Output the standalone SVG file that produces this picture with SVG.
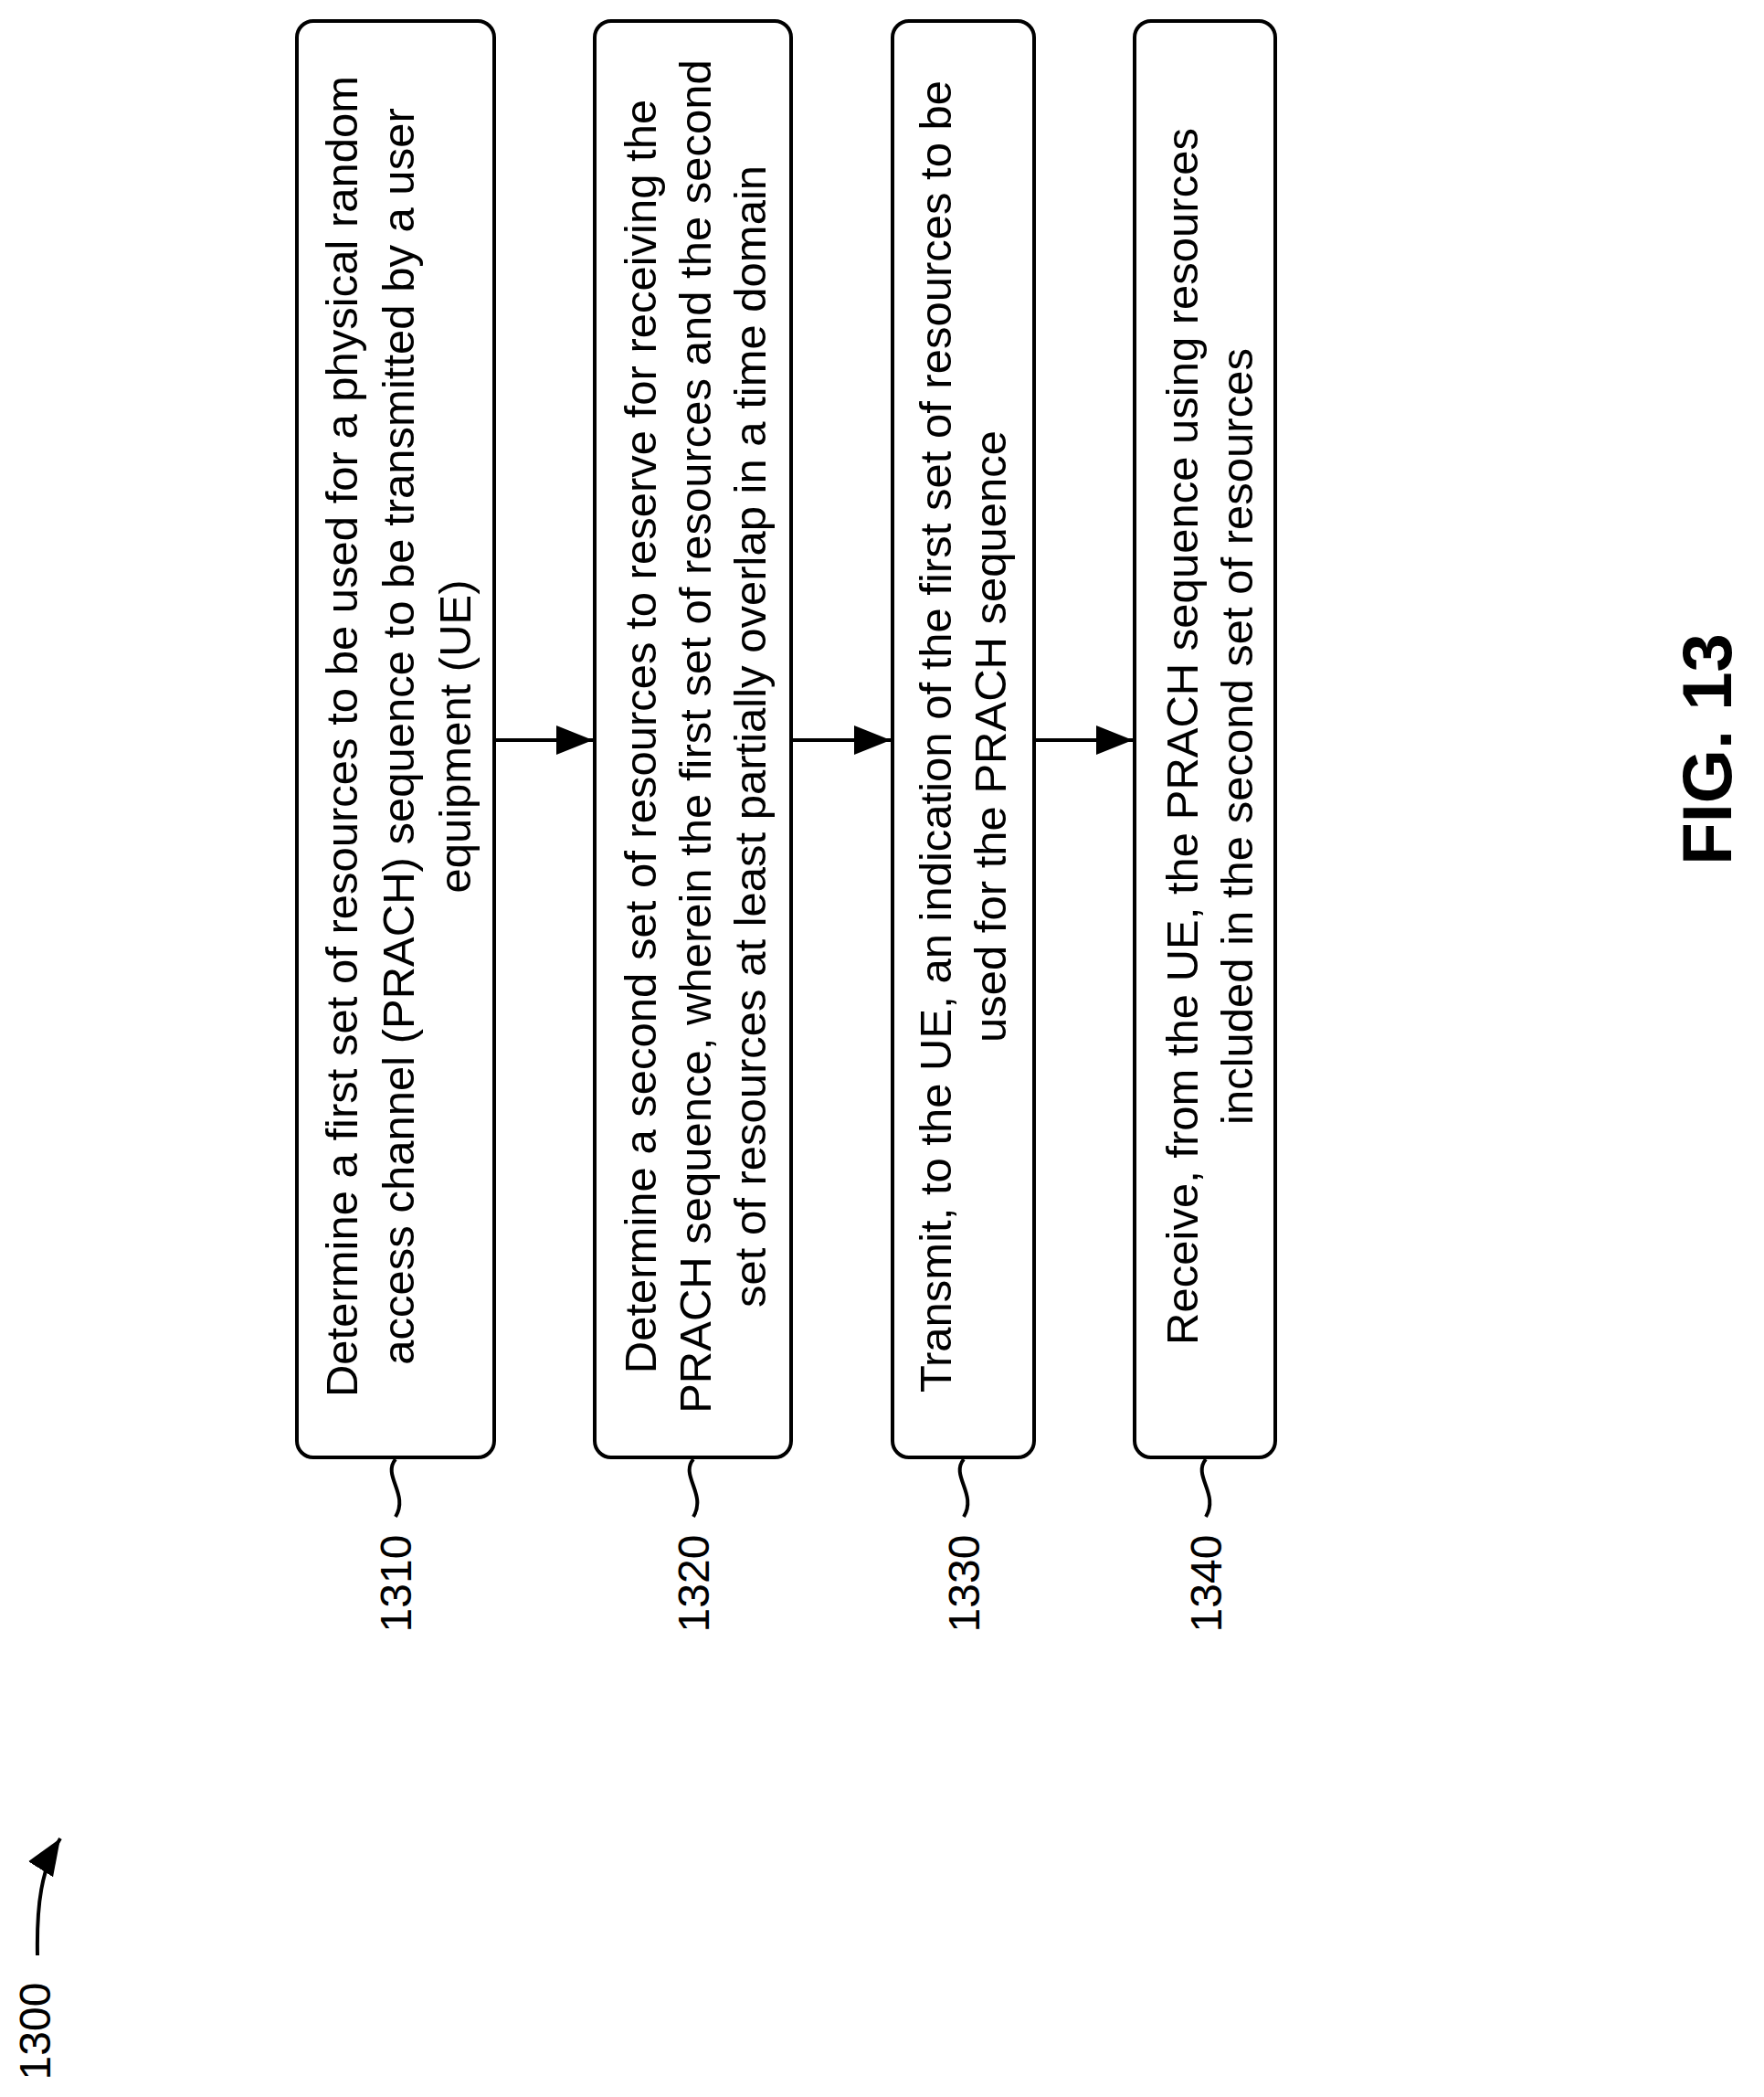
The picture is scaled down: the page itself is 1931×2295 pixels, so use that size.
<svg xmlns="http://www.w3.org/2000/svg" width="1931" height="2295" viewBox="0 0 1931 2295">
<style>
.box{fill:#fff;stroke:#000;stroke-width:4}
.t{font-family:"Liberation Sans",Arial,sans-serif;font-size:49px;text-anchor:middle;fill:#000}
.lbl{font-family:"Liberation Sans",Arial,sans-serif;font-size:48px;text-anchor:middle;fill:#000}
.ln{fill:none;stroke:#000;stroke-width:4}
</style>
<defs><marker id="ah" markerWidth="10" markerHeight="8" refX="10" refY="4" orient="auto" markerUnits="strokeWidth"><path d="M0,0 L10,4 L0,8 Z" fill="#000"/></marker></defs>
<rect width="1931" height="2295" fill="#fff"/>
<g id="n1310">
<rect class="box" x="325" y="23" width="216" height="1572" rx="18"/>
<text class="t" transform="translate(391,806) rotate(-90)">Determine a first set of resources to be used for a physical random</text>
<text class="t" transform="translate(453,806) rotate(-90)">access channel (PRACH) sequence to be transmitted by a user</text>
<text class="t" transform="translate(515,806) rotate(-90)">equipment (UE)</text>
<path class="ln" d="M433,1597 C418,1615 448,1635 433,1660"/>
<text class="lbl" transform="translate(450,1733) rotate(-90)">1310</text>
</g>
<g id="n1320">
<rect class="box" x="651" y="23" width="215" height="1572" rx="18"/>
<text class="t" transform="translate(718,806) rotate(-90)">Determine a second set of resources to reserve for receiving the</text>
<text class="t" transform="translate(778,806) rotate(-90)">PRACH sequence, wherein the first set of resources and the second</text>
<text class="t" transform="translate(838,806) rotate(-90)">set of resources at least partially overlap in a time domain</text>
<path class="ln" d="M759,1597 C744,1615 774,1635 759,1660"/>
<text class="lbl" transform="translate(776,1733) rotate(-90)">1320</text>
</g>
<g id="n1330">
<rect class="box" x="977" y="23" width="155" height="1572" rx="18"/>
<text class="t" transform="translate(1041,806) rotate(-90)">Transmit, to the UE, an indication of the first set of resources to be</text>
<text class="t" transform="translate(1101,806) rotate(-90)">used for the PRACH sequence</text>
<path class="ln" d="M1055,1597 C1040,1615 1070,1635 1055,1660"/>
<text class="lbl" transform="translate(1072,1733) rotate(-90)">1330</text>
</g>
<g id="n1340">
<rect class="box" x="1242" y="23" width="154" height="1572" rx="18"/>
<text class="t" transform="translate(1311,806) rotate(-90)">Receive, from the UE, the PRACH sequence using resources</text>
<text class="t" transform="translate(1371,806) rotate(-90)">included in the second set of resources</text>
<path class="ln" d="M1320,1597 C1305,1615 1335,1635 1320,1660"/>
<text class="lbl" transform="translate(1337,1733) rotate(-90)">1340</text>
</g>
<g id="connectors">
<line class="ln" x1="541" y1="810" x2="649" y2="810" marker-end="url(#ah)"/>
<line class="ln" x1="866" y1="810" x2="975" y2="810" marker-end="url(#ah)"/>
<line class="ln" x1="1132" y1="810" x2="1240" y2="810" marker-end="url(#ah)"/>
<path class="ln" d="M41,2140 C40,2085 45,2045 66,2012" marker-end="url(#ah)"/>
</g>
<text class="lbl" transform="translate(55,2223) rotate(-90)">1300</text>
<text transform="translate(1895,820) rotate(-90)" style="font-family:'Liberation Sans',Arial,sans-serif;font-size:76px;font-weight:bold;text-anchor:middle">FIG. 13</text>
</svg>
